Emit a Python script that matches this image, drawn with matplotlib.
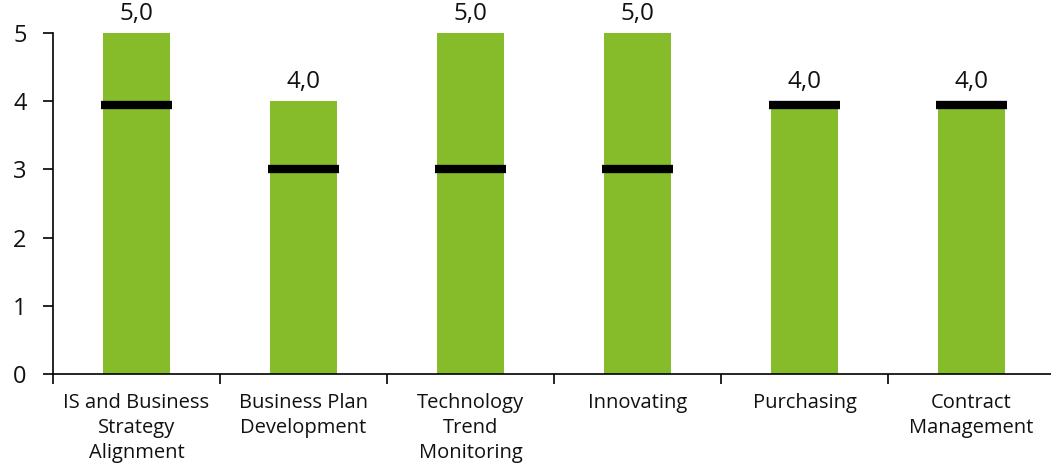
import matplotlib
matplotlib.use("Agg")
import matplotlib.pyplot as plt

categories = ["IS and Business\nStrategy\nAlignment", "Business Plan\nDevelopment",
              "Technology\nTrend\nMonitoring", "Innovating", "Purchasing",
              "Contract\nManagement"]
bar_values = [5.0, 4.0, 5.0, 5.0, 4.0, 4.0]
marker_values = [3.95, 3.0, 3.0, 3.0, 3.95, 3.95]
yticks = [0, 1, 2, 3, 4, 5]

plt.rcParams['font.family'] = ['Open Sans', 'DejaVu Sans']

fig = plt.figure(figsize=(10.51, 4.65), dpi=100)
ax = fig.add_axes([53/1051, 91/465, 1002/1051, 341/465])

x = list(range(len(categories)))
ax.bar(x, bar_values, width=0.40, color="#86BC29", zorder=2)
ax.hlines(marker_values, [i - 0.21 for i in x], [i + 0.21 for i in x],
          colors="black", linewidth=6, zorder=3)
for xi, v in zip(x, bar_values):
    ax.text(xi, v + 0.1, f"{v:.1f}".replace(".", ","), ha="center", va="bottom",
            fontsize=17.5, color="#111111", clip_on=False)

ax.set_xlim(-0.5, len(categories) - 0.5)
ax.set_ylim(0, 5)
ax.set_yticks(yticks)
ax.set_yticklabels([str(t) for t in yticks], fontsize=17, color="#111111")
ax.set_xticks([i - 0.5 for i in range(len(categories) + 1)])
ax.set_xticklabels([])
ax.set_xticks(x, minor=True)
ax.set_xticklabels(categories, minor=True, fontsize=14.5, linespacing=1.32,
                   color="#111111")
ax.tick_params(axis="x", which="minor", length=0, pad=14)
ax.tick_params(axis="x", which="major", length=7, width=1.2, direction="out")
ax.tick_params(axis="y", length=7, width=1.2, pad=12)
for s in ["top", "right"]:
    ax.spines[s].set_visible(False)
for s in ["left", "bottom"]:
    ax.spines[s].set_linewidth(1.2)

fig.savefig("out.png", dpi=100)
